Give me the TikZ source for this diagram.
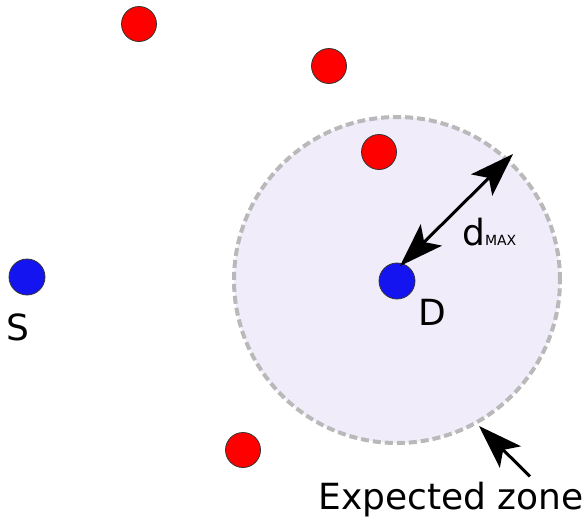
\documentclass[tikz,border=0pt]{standalone}
\usepackage{fontspec}
\setmainfont{DejaVu Sans}
\usetikzlibrary{arrows.meta}
\definecolor{zonefill}{RGB}{240,236,250}
\definecolor{zoneedge}{RGB}{185,185,185}
\definecolor{nodeblue}{RGB}{20,20,240}
\tikzset{
  relay/.style={circle, draw=black!80, line width=0.8pt, fill=red, minimum size=35pt, inner sep=0pt},
  endnode/.style={circle, draw=black!80, line width=0.8pt, fill=nodeblue, minimum size=36pt, inner sep=0pt},
  zone/.style={circle, draw=zoneedge, line width=4pt, dash pattern=on 8pt off 4pt, fill=zonefill, minimum size=326pt, inner sep=0pt},
  tip/.tip={Stealth[length=44pt, width=30pt, inset=10pt]},
  bigarrow/.style={line width=3pt, -tip},
  lbl/.style={font=\fontsize{36}{40}\selectfont, inner sep=0pt}
}
\begin{document}
\begin{tikzpicture}[x=1pt,y=-1pt]
\useasboundingbox (0,0) rectangle (586,520);
\node[zone] (zone) at (397,280) {};
\node[relay] (r1) at (139,24) {};
\node[relay] (r2) at (329,66) {};
\node[relay] (r3) at (379,152) {};
\node[relay] (r4) at (243,450) {};
\node[endnode] (S) at (27,277) {};
\node[endnode] (D) at (397,281) {};
\node[lbl] (Slab) at (18,327) {S};
\node[lbl] (Dlab) at (432,312) {D};
\node[lbl, anchor=base west] (dmax) at (462,245) {d{\fontsize{14}{14}\selectfont MAX}};
\coordinate (rim) at (513,154);
\draw[line width=3pt, tip-tip] (D.north east) ++(-10,-2) -- (rim);
\node[lbl] (zlab) at (451,500) {Expected zone};
\coordinate (zonetip) at (479,426);
\draw[bigarrow] (zlab.north) ++(79,-6) -- (zonetip);
\end{tikzpicture}
\end{document}
